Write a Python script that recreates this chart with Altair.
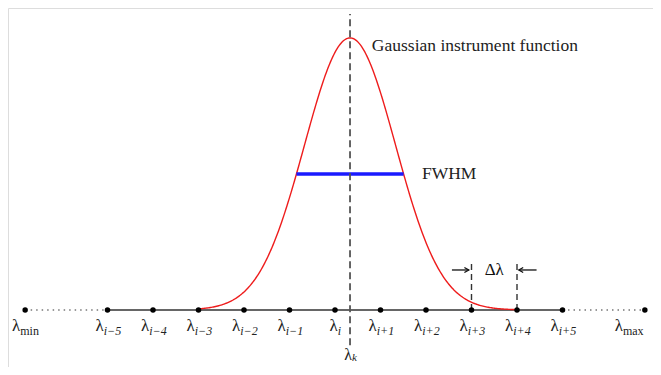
import altair as alt
import numpy as np
import pandas as pd

# ---- data ----
tick_pos = [-6.81, -5, -4, -3, -2, -1, 0, 1, 2, 3, 4, 5, 6.81]
tick_sub = ["min", "i\u22125", "i\u22124", "i\u22123", "i\u22122", "i\u22121", "i",
            "i+1", "i+2", "i+3", "i+4", "i+5", "max"]
lam_k = 0.33          # centre of the instrument function
sigma = 1.0           # width of the instrument function
curve_range = [-3, 4]
delta_pair = [3, 4]   # lambda_{i+3}, lambda_{i+4}
annotations = ["Gaussian instrument function", "FWHM"]

PX = 45.5  # px per data unit along x (for label offsets only)
FONT = "Liberation Serif"
EDGE_X = 6.78  # right-most data position where a label may end (page edge)

xs = alt.Scale(domain=[-7.187, 6.989])
ys = alt.Scale(domain=[-0.2096, 1.110])
X = lambda f: alt.X(f, scale=xs, axis=None)
Y = lambda f: alt.Y(f, scale=ys, axis=None)

# gaussian curve
gx = np.linspace(curve_range[0], curve_range[1], 300)
gy = np.exp(-0.5 * ((gx - lam_k) / sigma) ** 2)
curve_df = pd.DataFrame({"x": gx, "y": gy})

hw = sigma * np.sqrt(2 * np.log(2))
fwhm_df = pd.DataFrame({"x": [lam_k - hw], "x2": [lam_k + hw], "y": [0.5]})

ticks_df = pd.DataFrame({"x": tick_pos, "sub": tick_sub, "y": 0.0})


def sub_w(s):
    w = 0
    for c in s:
        w += {"i": 3.5, "\u2212": 7, "+": 7, "m": 9.3, "a": 5.3, "x": 6, "n": 6}.get(c, 6)
    return w


LAMW = 9
jx = []
for p, s in zip(tick_pos, tick_sub):
    j = p + (LAMW - sub_w(s)) / 2 / PX
    # keep the label inside the drawing area
    j = min(j, EDGE_X - sub_w(s) / PX)
    jx.append(j)
ticks_df["jx"] = jx
ticks_df["upright"] = [s in ("min", "max") for s in tick_sub]

base = alt.Chart(ticks_df)

solid = alt.Chart(pd.DataFrame({"x": [-5], "x2": [5], "y": [0]})).mark_rule(
    color="#333", strokeWidth=1.6).encode(x=X("x:Q"), x2="x2:Q", y=Y("y:Q"))
dotted = alt.Chart(pd.DataFrame({"x": [-6.81, 5], "x2": [-5, 6.81], "y": [0, 0]})).mark_rule(
    color="#777", strokeWidth=1.3, strokeDash=[1.5, 4]).encode(x=X("x:Q"), x2="x2:Q", y=Y("y:Q"))

curve = alt.Chart(curve_df).mark_line(color="#ee1c1c", strokeWidth=1.4).encode(
    x=X("x:Q"), y=Y("y:Q"))

fwhm = alt.Chart(fwhm_df).mark_rule(color="#1a1aff", strokeWidth=3.5).encode(
    x=X("x:Q"), x2="x2:Q", y=Y("y:Q"))

vline = alt.Chart(pd.DataFrame({"x": [lam_k], "y": [-0.13], "y2": [1.088]})).mark_rule(
    color="#555", strokeWidth=1.8, strokeDash=[7, 4]).encode(x=X("x:Q"), y=Y("y:Q"), y2="y2:Q")

dl_df = pd.DataFrame({"x": delta_pair, "y": [0, 0], "y2": [0.173, 0.173]})
dl_lines = alt.Chart(dl_df).mark_rule(color="#333", strokeWidth=1.4, strokeDash=[6, 4]).encode(
    x=X("x:Q"), y=Y("y:Q"), y2="y2:Q")

arr_y = 0.147
shaft_df = pd.DataFrame({"x": [delta_pair[0] - 0.43, delta_pair[1] + 0.04],
                         "x2": [delta_pair[0] - 0.06, delta_pair[1] + 0.43],
                         "y": [arr_y, arr_y]})
shafts = alt.Chart(shaft_df).mark_rule(color="#111", strokeWidth=1.3).encode(
    x=X("x:Q"), x2="x2:Q", y=Y("y:Q"))
heads_r = alt.Chart(pd.DataFrame({"x": [delta_pair[0] - 0.06], "y": [arr_y]})).mark_point(
    shape="M-1.6,-0.9L0,0L-1.6,0.9", filled=False, stroke="#111", strokeWidth=1.3, size=30, opacity=1
).encode(x=X("x:Q"), y=Y("y:Q"))
heads_l = alt.Chart(pd.DataFrame({"x": [delta_pair[1] + 0.04], "y": [arr_y]})).mark_point(
    shape="M1.6,-0.9L0,0L1.6,0.9", filled=False, stroke="#111", strokeWidth=1.3, size=30, opacity=1
).encode(x=X("x:Q"), y=Y("y:Q"))

dl_text = alt.Chart(pd.DataFrame({"x": [sum(delta_pair) / 2], "y": [arr_y], "t": ["\u0394\u03bb"]})).mark_text(
    font=FONT, fontSize=17, color="#111", baseline="middle").encode(x=X("x:Q"), y=Y("y:Q"), text="t:N")

dots = base.mark_circle(color="#000", size=30, opacity=1).encode(x=X("x:Q"), y=Y("y:Q"))

lam_txt = base.mark_text(font=FONT, fontSize=17, color="#222", align="right", baseline="middle",
                         dy=16).encode(x=X("jx:Q"), y=Y("y:Q"), text=alt.value("\u03bb"))
sub_it = base.transform_filter("!datum.upright").mark_text(
    font=FONT, fontSize=12, fontStyle="italic", color="#222", align="left", baseline="middle", dy=21
).encode(x=X("jx:Q"), y=Y("y:Q"), text="sub:N")
sub_up = base.transform_filter("datum.upright").mark_text(
    font=FONT, fontSize=12, color="#222", align="left", baseline="middle", dy=21
).encode(x=X("jx:Q"), y=Y("y:Q"), text="sub:N")

lk_df = pd.DataFrame({"x": [lam_k + (LAMW - 5) / 2 / PX], "y": [-0.13], "sub": ["k"]})
lk_lam = alt.Chart(lk_df).mark_text(font=FONT, fontSize=16, color="#222", align="right",
                                    baseline="middle", dy=10).encode(x=X("x:Q"), y=Y("y:Q"), text=alt.value("\u03bb"))
lk_sub = alt.Chart(lk_df).mark_text(font=FONT, fontSize=11, fontStyle="italic", color="#222", align="left",
                                    baseline="middle", dy=13).encode(x=X("x:Q"), y=Y("y:Q"), text="sub:N")

ann_df = pd.DataFrame({"x": [lam_k + 0.48, 1.91], "y": [0.97, 0.5], "t": annotations})
ann = alt.Chart(ann_df).mark_text(font=FONT, fontSize=17.5, color="#222", align="left", baseline="middle").encode(
    x=X("x:Q"), y=Y("y:Q"), text="t:N")

chart = alt.layer(
    dotted, solid, curve, fwhm, vline, dl_lines, shafts, heads_r, heads_l, dl_text,
    dots, lam_txt, sub_it, sub_up, lk_lam, lk_sub, ann
).properties(
    width=645, height=359, padding=0, autosize=alt.AutoSizeParams(type="none")
).configure_view(strokeWidth=0).configure(background="white")

chart.save("out.html", embed_options={"renderer": "svg", "actions": False})
